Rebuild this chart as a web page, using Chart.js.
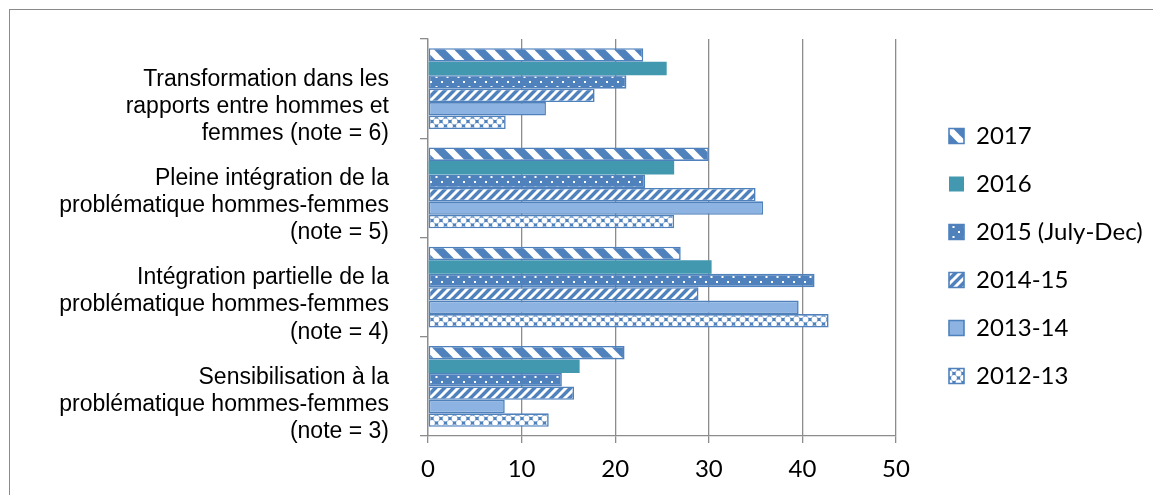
<!DOCTYPE html>
<html>
<head>
<meta charset="utf-8">
<script src="https://cdn.jsdelivr.net/npm/chart.js@4.4.1/dist/chart.umd.min.js"></script>
<style>
  html, body { margin: 0; padding: 0; background: #fff; overflow: hidden; }
  #frame { position: absolute; left: 9px; top: 9px; width: 1400px; height: 800px;
           border: 1.5px solid #8a8a8a; box-sizing: border-box; }
  #wrap { position: absolute; left: 0; top: 0; width: 1153px; height: 495px; }
</style>
</head>
<body>
<div id="frame"></div>
<div id="wrap"><canvas id="c" width="1153" height="495"></canvas></div>
<script>
// Gender-rating categories, top to bottom
const categories = [
  ['Transformation dans les', 'rapports entre hommes et', 'femmes (note = 6)'],
  ['Pleine intégration de la', 'problématique hommes-femmes', '(note = 5)'],
  ['Intégration partielle de la', 'problématique hommes-femmes', '(note = 4)'],
  ['Sensibilisation à la', 'problématique hommes-femmes', '(note = 3)']
];

// Series names, in legend order
const seriesNames = ['2017', '2016', '2015 (July-Dec)', '2014-15', '2013-14', '2012-13'];

// Percentages per category (same order as categories)
const v2017   = [23.0, 30.0, 27.0, 21.0];
const v2016   = [25.5, 26.3, 30.3, 16.2];
const v2015   = [21.2, 23.2, 41.3, 14.3];
const v201415 = [17.8, 35.0, 28.9, 15.6];
const v201314 = [12.6, 35.8, 39.6,  8.2];
const v201213 = [ 8.3, 26.3, 42.8, 12.9];

const xTicks = [0, 10, 20, 30, 40, 50];

const BLUE = '#4f81bd';
const TEAL = '#4198af';
const LIGHT = '#8db3e2';

// --- fill patterns -------------------------------------------------------
function tile(w, h, paint) {
  const cv = document.createElement('canvas');
  cv.width = w; cv.height = h;
  const g = cv.getContext('2d');
  paint(g, w, h);
  return document.getElementById('c').getContext('2d').createPattern(cv, 'repeat');
}

// wide downward diagonal: white "\" stripes on blue
const patWideDown = tile(20, 20, (g, w, h) => {
  g.fillStyle = BLUE; g.fillRect(0, 0, w, h);
  g.strokeStyle = '#fff'; g.lineWidth = 6.5;
  for (let k = -1; k <= 1; k++) {
    g.beginPath(); g.moveTo(k * w - 2, -2); g.lineTo(k * w + w + 2, h + 2); g.stroke();
  }
});

// dotted: small white dots on blue
const patDots = tile(11, 10, (g, w, h) => {
  g.fillStyle = BLUE; g.fillRect(0, 0, w, h);
  g.fillStyle = '#fff';
  g.fillRect(1, 1, 2, 2);
  g.fillRect(6.5, 6, 2, 2);
});

// light upward diagonal: narrow "/" stripes
const patUp = tile(9, 9, (g, w, h) => {
  g.fillStyle = BLUE; g.fillRect(0, 0, w, h);
  g.strokeStyle = '#fff'; g.lineWidth = 3;
  for (let k = -1; k <= 1; k++) {
    g.beginPath(); g.moveTo(k * w - 1, h + 1); g.lineTo(k * w + w + 1, -1); g.stroke();
  }
});

// dotted diamond: white crosses on blue
const patDiamond = tile(9, 9, (g, w, h) => {
  g.fillStyle = BLUE; g.fillRect(0, 0, w, h);
  g.fillStyle = '#fff';
  const blob = (cx, cy) => {
    g.beginPath(); g.arc(cx, cy, 2.9, 0, Math.PI * 2); g.fill();
  };
  blob(0, 0); blob(w, 0); blob(0, h); blob(w, h); blob(w / 2, h / 2);
});

const fills = [patWideDown, TEAL, patDots, patUp, LIGHT, patDiamond];
const values = [v2017, v2016, v2015, v201415, v201314, v201213];

const datasets = seriesNames.map((name, i) => ({
  label: name,
  data: values[i],
  backgroundColor: fills[i],
  borderColor: i === 1 ? TEAL : BLUE,
  borderWidth: i === 1 ? 0 : 1.6,
  borderSkipped: false,
  categoryPercentage: 0.815,
  barPercentage: 1.0
}));

// place the legend column a little right of the plot and centred on the frame
const legendPlace = {
  id: 'legendPlace',
  afterLayout(chart) {
    const lg = chart.legend;
    if (!lg) return;
    lg.left = chart.chartArea.right + 29;
    lg.right = chart.width;
    lg.width = lg.right - lg.left;
    lg.top -= 5;
    lg.bottom -= 5;
  }
};

const GRID = '#8c8c8c';

new Chart(document.getElementById('c'), {
  type: 'bar',
  data: { labels: categories, datasets },
  plugins: [legendPlace],
  options: {
    indexAxis: 'y',
    responsive: false,
    animation: false,
    devicePixelRatio: 1,
    layout: { padding: { top: 39, left: 0, right: 57, bottom: 12 } },
    plugins: {
      tooltip: { enabled: false },
      legend: {
        position: 'right',
        align: 'center',
        maxWidth: 200,
        labels: {
          boxWidth: 15,
          boxHeight: 15,
          padding: 24,
          color: '#000',
          font: { family: 'Lato', size: 24 }
        }
      }
    },
    scales: {
      x: {
        min: 0,
        max: 50,
        afterBuildTicks(scale) { scale.ticks = xTicks.map(v => ({ value: v })); },
        ticks: { color: '#000', padding: 14, font: { family: 'Lato', size: 24, lineHeight: 1.0 } },
        grid: { color: GRID, lineWidth: 1.3, tickLength: 7 },
        border: { color: GRID, width: 1.3 },
        afterFit(scale) {
          scale.height = 47;
          scale.paddingLeft = 0;
          scale.paddingRight = 0;
        }
      },
      y: {
        ticks: {
          color: '#000',
          padding: 31,
          labelOffset: 18,
          autoSkip: false,
          font: { family: 'Liberation Sans', size: 23, lineHeight: 1.18 }
        },
        grid: { offset: true, drawOnChartArea: false, tickLength: 8, color: GRID, lineWidth: 1.3 },
        border: { color: GRID, width: 1.3 },
        afterFit(scale) {
          scale.width = 428;
          scale.paddingTop = 0;
          scale.paddingBottom = 0;
        }
      }
    }
  }
});
</script>
</body>
</html>
